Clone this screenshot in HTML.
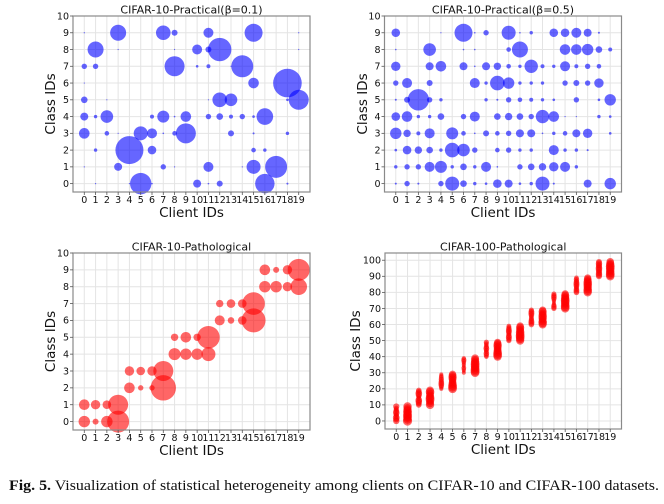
<!DOCTYPE html>
<html><head><meta charset="utf-8">
<style>
html,body{margin:0;padding:0;background:#fff;}
svg{display:block;font-family:"DejaVu Sans","Liberation Sans",sans-serif;}
.cap{font-family:"Liberation Serif",serif;}
</style></head>
<body>
<svg id="fig" width="664" height="504" viewBox="0 0 664 504" xmlns="http://www.w3.org/2000/svg">
<text class="cap" x="9" y="490" font-size="15" fill="#111" textLength="650" lengthAdjust="spacingAndGlyphs"><tspan font-weight="bold">Fig. 5.</tspan>  Visualization of statistical heterogeneity among clients on CIFAR-10 and CIFAR-100 datasets.</text>
</svg>
<script>
// ---- Panel 1: CIFAR-10 Practical beta=0.1 ----
const p1Clients=[0,3,7,8,11,15,19, 1,3,8,10,11,12,19, 0,1,8,10,11,13,14, 0,15,18, 0,2,11,12,13,18,19, 0,1,2,6,7,8,9,11,12,13,14,15,16, 0,2,3,5,6,7,8,9,13,15,18, 1,4,6,15,16, 0,3,7,8,11,14,15,17, 1,4,5,6,10,11,12,16,18];
const p1Classes=[9,9,9,9,9,9,9, 8,8,8,8,8,8,8, 7,7,7,7,7,7,7, 6,6,6, 5,5,5,5,5,5,5, 4,4,4,4,4,4,4,4,4,4,4,4,4, 3,3,3,3,3,3,3,3,3,3,3, 2,2,2,2,2, 1,1,1,1,1,1,1,1, 0,0,0,0,0,0,0,0,0];
const p1Sizes=[0.6,8,7.3,3,5,9,0.6, 8,0.6,0.6,5,3,11.7,0.6, 2.7,2.7,10,1.3,2,0.6,11, 0.6,5.3,14.3, 3.3,0.6,0.6,7.3,6.3,1.3,10, 4,1.7,6.3,2,6,0.8,5.3,2.7,3.3,2,2.7,1.3,8.3, 5.3,2.3,0.6,7,5,0.8,2.3,10,3,1,1.7, 1.7,14,4.3,2.3,1.7, 0.6,4,2.7,0.6,5,0.6,7,11, 0.6,0.6,10.7,0.8,4,0.8,3,9.7,1];
// ---- Panel 2: CIFAR-10 Practical beta=0.5 ----
const p2Clients=[0,4,6,7,8,10,11,12,14,15,16,17,18, 0,3,6,7,10,11,15,16,17,18,19, 0,3,4,6,7,8,9,10,11,12,13,14,15,16,17,18, 0,1,3,7,8,9,10,11,12,13,15,16,17,18, 0,1,2,3,4,8,9,10,11,12,13,14,16,18,19, 0,1,2,3,4,6,7,9,10,11,12,13,14,15,16,18,19, 0,1,2,3,5,6,7,8,9,10,11,12,13,14,15,16,17,19, 0,1,2,3,4,5,6,7,9,10,11,12,14,15,16,17, 0,1,2,3,4,5,6,7,8,9,11,12,13,14,15,16, 0,1,2,4,5,6,7,8,9,10,11,12,13,14,17,19];
const p2Classes=[9,9,9,9,9,9,9,9,9,9,9,9,9, 8,8,8,8,8,8,8,8,8,8,8, 7,7,7,7,7,7,7,7,7,7,7,7,7,7,7,7, 6,6,6,6,6,6,6,6,6,6,6,6,6,6, 5,5,5,5,5,5,5,5,5,5,5,5,5,5,5, 4,4,4,4,4,4,4,4,4,4,4,4,4,4,4,4,4, 3,3,3,3,3,3,3,3,3,3,3,3,3,3,3,3,3,3, 2,2,2,2,2,2,2,2,2,2,2,2,2,2,2,2, 1,1,1,1,1,1,1,1,1,1,1,1,1,1,1,1, 0,0,0,0,0,0,0,0,0,0,0,0,0,0,0,0];
const p2Sizes=[4.3,0.6,9,0.8,2.7,7,0.8,1.7,4.3,4.3,5,4,1, 0.8,6.3,0.8,0.8,2.3,8,5.3,5.3,5.7,3.3,2, 4.7,4,5.3,4,0.8,4,3.7,2.3,1.7,6.7,2,1.7,5,2,2.7,2.3, 2.7,5,3,5,1.7,7.3,5.7,1.7,1.7,1.7,2.7,3,2.7,4.7, 1,3,10.7,2.7,1.7,1.7,1,2.7,2.3,2,1.7,1.3,2.7,1.3,5.7, 4.3,5.3,1.7,1.7,3.3,2.7,5,3.3,3.7,3.3,2.7,6.7,5.3,0.6,0.6,1.7,1.3, 5.7,3.7,2,5,6,2.3,0.8,3,2.3,2.7,4,4,0.8,1.7,2.3,4,4.7,1.3, 1.3,4.3,3.7,3.3,1.7,7.3,6.3,2.7,2.3,2.7,1.7,1.7,5,1.7,1.7,1, 1.7,2.7,2.7,5,6,1.7,3.3,1.7,5,0.8,2.7,3.3,3.7,4.7,5,1.7, 1,2.7,1,2.7,7,3.3,1.7,1.3,4.3,4,1.3,1.7,7,1,4,5.7];
// ---- Panel 3: CIFAR-10 Pathological ----
const p3Clients=[0,1,2,3, 0,1,2,3, 4,5,6,7, 4,5,6,7, 8,9,10,11, 8,9,10,11, 12,13,14,15, 12,13,14,15, 16,17,18,19, 16,17,18,19];
const p3Classes=[0,0,0,0, 1,1,1,1, 2,2,2,2, 3,3,3,3, 4,4,4,4, 5,5,5,5, 6,6,6,6, 7,7,7,7, 8,8,8,8, 9,9,9,9];
const p3Sizes=[5.7,3,5.7,11, 5.3,4.7,4.3,10, 5.3,2.7,2.7,12.7, 4.7,4.3,4.7,10, 6,5.7,5.7,7, 3.7,5.3,3.7,11.3, 5,3.3,4.3,12, 3.7,4.3,4.3,11.3, 5.7,5.7,4.7,8.3, 5.3,3,4.7,11];
// ---- Panel 4: CIFAR-100 Pathological (per client: 10 classes starting at base) ----
const p4Base=[0,0,10,10,20,20,30,30,40,40,50,50,60,60,70,70,80,80,90,90];
const p4Sizes=[
[3.2,3,3.4,2.8,2.6,3.3,3,2.6,2.5,3.1],
[4.6,4.4,4.2,4.5,4.3,4.2,4.4,4.1,4,4.2],
[2.8,3,3.2,3.3,2.6,2.4,3,3.3,3,2.8],
[4.2,4,3.8,4.3,4.4,4.1,3.8,4,4.3,3.9],
[2,2.4,2.7,2.9,2.8,2.5,2.6,2.4,2.3,2],
[4.3,4.4,4.3,4,3.8,3.6,3.9,4.1,4,3.7],
[2,1.8,2.2,2.4,1.8,2.1,2,2.4,2.6,2.2],
[4.3,4.5,4.4,4.2,4.3,4.4,4.3,4.1,4,3.9],
[2.3,2.6,2.8,2.4,2.5,2.9,2.6,2.3,2.4,2.6],
[4.1,4.4,4.3,4.1,3.9,3.8,4,4.2,3.9,3.5],
[2.6,2.8,3,2.8,2.5,2.8,3,2.8,2.6,2.4],
[4.1,4.2,4.3,4.4,4.2,4.3,4,3.9,4.1,3.8],
[2.8,3,2.9,2.6,2.5,2.4,2.8,3,2.9,2.6],
[4,4.3,4.1,3.9,4.1,4.2,4,3.8,4.1,3.6],
[2.6,2.8,2.5,2,1.8,2.2,2.6,2.8,2.7,2.5],
[4.2,4.4,4.3,4.1,4.3,4.4,4.2,4,4.1,3.7],
[2.8,2.9,2.7,2.5,2.8,3,2.9,2.6,2.7,2.4],
[4.1,4.3,4.2,4,4.2,4.1,4.3,4,3.9,3.6],
[3,3.2,3.1,2.9,3.2,3.3,3,3.1,3.2,2.9],
[4.2,4.4,4.3,4.1,4.2,4.3,4.4,4.2,4,3.8]];
const xTicks=["0","1","2","3","4","5","6","7","8","9","10","11","12","13","14","15","16","17","18","19"];
const yTicks10=[0,1,2,3,4,5,6,7,8,9,10];
const yTicks100=[0,10,20,30,40,50,60,70,80,90,100];

const NS="http://www.w3.org/2000/svg";
const svg=document.getElementById('fig');
function mk(tag,attrs,parent){const e=document.createElementNS(NS,tag);for(const k in attrs)e.setAttribute(k,attrs[k]);(parent||svg).appendChild(e);return e;}

function panel(cfg){
  const g=mk('g',{});
  
  
  const L=cfg.left,R=cfg.right,T=cfg.top,B=cfg.bottom;
  const sx=v=>L+(v-cfg.xmin)/(cfg.xmax-cfg.xmin)*(R-L);
  const sy=v=>B-(v-cfg.ymin)/(cfg.ymax-cfg.ymin)*(B-T);
  mk('rect',{x:L,y:T,width:R-L,height:B-T,fill:'#fff'},g);
  xTicks.forEach((t,i)=>{const x=sx(i);
    const ln=mk('line',{x1:x,x2:x,y1:T,y2:B,stroke:'#e4e4e4','stroke-width':1},g);
    
    
  });
  cfg.yTicks.forEach(v=>{const y=sy(v);
    const ln=mk('line',{x1:L,x2:R,y1:y,y2:y,stroke:'#e4e4e4','stroke-width':1},g);
    
    
  });
  const marks=mk('g',{},g);
  
  
  cfg.points.forEach(p=>{
    const c=mk('circle',{cx:sx(p[0]),cy:sy(p[1]),r:p[2],fill:cfg.color,'fill-opacity':0.6},marks);
    
    
  });
  const fr=mk('rect',{x:L,y:T,width:R-L,height:B-T,fill:'none',stroke:'#8a8a8a','stroke-width':1.2},g);
  
  
  xTicks.forEach((t,i)=>{const x=sx(i);
    mk('line',{x1:x,x2:x,y1:B,y2:B+3,stroke:'#555','stroke-width':0.8},g);
    const tx=mk('text',{x:x,y:B+11,'font-size':9.5,'text-anchor':'middle',fill:'#111'},g);
    tx.textContent=t;
    
    
  });
  cfg.yTicks.forEach(v=>{const y=sy(v);
    mk('line',{x1:L-3,x2:L,y1:y,y2:y,stroke:'#555','stroke-width':0.8},g);
    const tx=mk('text',{x:L-4,y:y+3.3,'font-size':9.5,'text-anchor':'end',fill:'#111'},g);
    tx.textContent=String(v);
    
    
  });
  const ti=mk('text',{x:(L+R)/2,y:T-2.5,'font-size':11,'text-anchor':'middle',fill:'#111'},g);
  ti.textContent=cfg.title;
  
  
  const xl=mk('text',{x:(L+R)/2,y:B+25,'font-size':13.5,'text-anchor':'middle',fill:'#111'},g);
  xl.textContent='Client IDs';
  
  
  const yx=cfg.ylabX, yy=(T+B)/2;
  const yl=mk('text',{x:yx,y:yy,'font-size':13.5,'text-anchor':'middle',fill:'#111',transform:`rotate(-90 ${yx} ${yy})`},g);
  yl.textContent='Class IDs';
  
  
}
function zip(a,b,c){return a.map((v,i)=>[v,b[i],c[i]]);}
const p4pts=[];
p4Base.forEach((b,ci)=>{p4Sizes[ci].forEach((r,k)=>p4pts.push([ci,b+k,r]));});

panel({name:'panel-cifar10-practical-beta-0.1',title:'CIFAR-10-Practical(β=0.1)',left:73,right:310,top:16,bottom:192,xmin:-1,xmax:20,ymin:-0.5,ymax:10,yTicks:yTicks10,ylabX:55,color:'#0000ff',points:zip(p1Clients,p1Classes,p1Sizes)});
panel({name:'panel-cifar10-practical-beta-0.5',title:'CIFAR-10-Practical(β=0.5)',left:384.5,right:621.5,top:16,bottom:192,xmin:-1,xmax:20,ymin:-0.5,ymax:10,yTicks:yTicks10,ylabX:367,color:'#0000ff',points:zip(p2Clients,p2Classes,p2Sizes)});
panel({name:'panel-cifar10-pathological',title:'CIFAR-10-Pathological',left:73,right:310,top:253,bottom:430,xmin:-1,xmax:20,ymin:-0.5,ymax:10,yTicks:yTicks10,ylabX:55,color:'#ff0000',points:zip(p3Clients,p3Classes,p3Sizes)});
panel({name:'panel-cifar100-pathological',title:'CIFAR-100-Pathological',left:385,right:621.5,top:253,bottom:429,xmin:-1,xmax:20,ymin:-5,ymax:104.5,yTicks:yTicks100,ylabX:360,color:'#ff0000',points:p4pts});
</script>
</body></html>
